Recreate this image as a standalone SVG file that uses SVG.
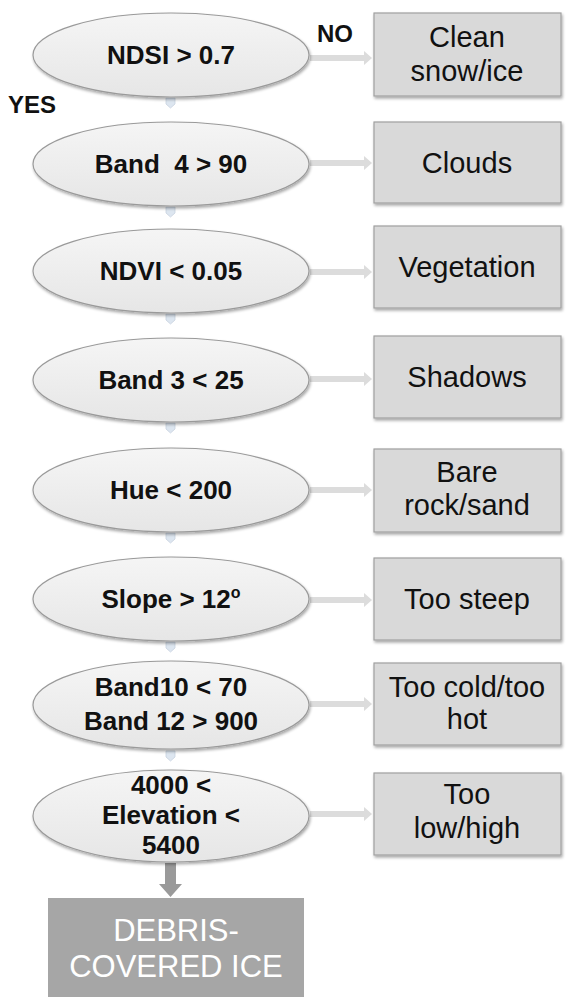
<svg xmlns="http://www.w3.org/2000/svg" width="574" height="1000" viewBox="0 0 574 1000">
<defs>
<linearGradient id="eg" x1="0" y1="0" x2="0" y2="1">
<stop offset="0" stop-color="#f5f5f5"/>
<stop offset="1" stop-color="#e6e6e6"/>
</linearGradient>
<filter id="sh" x="-10%" y="-10%" width="125%" height="130%">
<feGaussianBlur in="SourceAlpha" stdDeviation="1.5"/>
<feOffset dx="1" dy="2" result="b"/>
<feComponentTransfer><feFuncA type="linear" slope="0.35"/></feComponentTransfer>
<feMerge><feMergeNode/><feMergeNode in="SourceGraphic"/></feMerge>
</filter>
<path id="arr" d="M0,-3 H54 V-7 L62,0 L54,7 V3 H0 Z"/>
<path id="sm" d="M-4.5,0 h9 v6 l-4.5,4 l-4.5,-4 Z"/>
</defs>
<style>
.ell{fill:url(#eg);stroke:#9a9a9a;stroke-width:1.2;filter:url(#sh)}
.box{fill:#d9d9d9;stroke:#a0a0a0;stroke-width:1.2;filter:url(#sh)}
.et{font-family:"Liberation Sans",Arial,sans-serif;font-weight:bold;font-size:26px;fill:#111;text-anchor:middle}
.bt{font-family:"Liberation Sans",Arial,sans-serif;font-size:29px;fill:#111;text-anchor:middle}
.lb{font-family:"Liberation Sans",Arial,sans-serif;font-weight:bold;font-size:24px;fill:#111}
.ar{fill:#dcdcdc}
.sm{fill:#dde6f0;stroke:#c8d2de;stroke-width:0.8}
.dt{font-family:"Liberation Sans",Arial,sans-serif;font-size:31px;fill:#fff;text-anchor:middle}
</style>

<g id="connectors">
<use href="#arr" class="ar" x="310" y="58"/>
<use href="#arr" class="ar" x="310" y="163"/>
<use href="#arr" class="ar" x="310" y="272"/>
<use href="#arr" class="ar" x="310" y="379"/>
<use href="#arr" class="ar" x="310" y="490"/>
<use href="#arr" class="ar" x="310" y="600"/>
<use href="#arr" class="ar" x="310" y="704"/>
<use href="#arr" class="ar" x="310" y="814"/>
<use href="#sm" class="sm" x="170.5" y="98"/>
<use href="#sm" class="sm" x="170.5" y="207"/>
<use href="#sm" class="sm" x="170.5" y="314"/>
<use href="#sm" class="sm" x="170.5" y="423"/>
<use href="#sm" class="sm" x="170.5" y="533"/>
<use href="#sm" class="sm" x="170.5" y="642"/>
<use href="#sm" class="sm" x="170.5" y="751"/>
<path d="M165,863 h11 v21 h6 l-11.5,13 l-11.5,-13 h6 Z" fill="#9a9a9a"/>
<text class="lb" x="317" y="42">NO</text>
<text class="lb" x="8" y="113">YES</text>
</g>

<g id="n1"><ellipse class="ell" cx="171" cy="55" rx="138" ry="42"/><text class="et" x="171" y="64">NDSI &gt; 0.7</text></g>
<g id="n2"><ellipse class="ell" cx="171" cy="164" rx="138" ry="42"/><text class="et" x="171" y="173" xml:space="preserve">Band  4 &gt; 90</text></g>
<g id="n3"><ellipse class="ell" cx="171" cy="271" rx="138" ry="42"/><text class="et" x="171" y="280">NDVI &lt; 0.05</text></g>
<g id="n4"><ellipse class="ell" cx="171" cy="380" rx="138" ry="42"/><text class="et" x="171" y="389">Band 3 &lt; 25</text></g>
<g id="n5"><ellipse class="ell" cx="171" cy="490" rx="138" ry="42"/><text class="et" x="171" y="499">Hue &lt; 200</text></g>
<g id="n6"><ellipse class="ell" cx="171" cy="599" rx="138" ry="42"/><text class="et" x="171" y="608">Slope &gt; 12<tspan font-size="16" dy="-10">o</tspan></text></g>
<g id="n7"><ellipse class="ell" cx="171" cy="705" rx="138" ry="44"/><text class="et" x="171" y="696">Band10 &lt; 70</text><text class="et" x="171" y="730">Band 12 &gt; 900</text></g>
<g id="n8"><ellipse class="ell" cx="171" cy="816" rx="138" ry="46"/><text class="et" x="171" y="794">4000 &lt;</text><text class="et" x="171" y="824">Elevation &lt;</text><text class="et" x="171" y="854">5400</text></g>

<g id="r1"><rect class="box" x="374" y="13" width="187" height="83"/><text class="bt" x="467" y="47">Clean</text><text class="bt" x="467" y="81">snow/ice</text></g>
<g id="r2"><rect class="box" x="374" y="122" width="187" height="81"/><text class="bt" x="467" y="173">Clouds</text></g>
<g id="r3"><rect class="box" x="374" y="226" width="187" height="82"/><text class="bt" x="467" y="277">Vegetation</text></g>
<g id="r4"><rect class="box" x="374" y="336" width="187" height="82"/><text class="bt" x="467" y="387">Shadows</text></g>
<g id="r5"><rect class="box" x="374" y="449" width="187" height="83"/><text class="bt" x="467" y="482">Bare</text><text class="bt" x="467" y="515">rock/sand</text></g>
<g id="r6"><rect class="box" x="374" y="558" width="187" height="82"/><text class="bt" x="467" y="609">Too steep</text></g>
<g id="r7"><rect class="box" x="374" y="663" width="187" height="82"/><text class="bt" x="467" y="697">Too cold/too</text><text class="bt" x="467" y="729">hot</text></g>
<g id="r8"><rect class="box" x="374" y="773" width="187" height="82"/><text class="bt" x="467" y="804">Too</text><text class="bt" x="467" y="838">low/high</text></g>

<g id="final"><rect x="48" y="898" width="256" height="99" fill="#a6a6a6"/><text class="dt" x="176" y="941">DEBRIS-</text><text class="dt" x="176" y="977">COVERED ICE</text></g>
</svg>
